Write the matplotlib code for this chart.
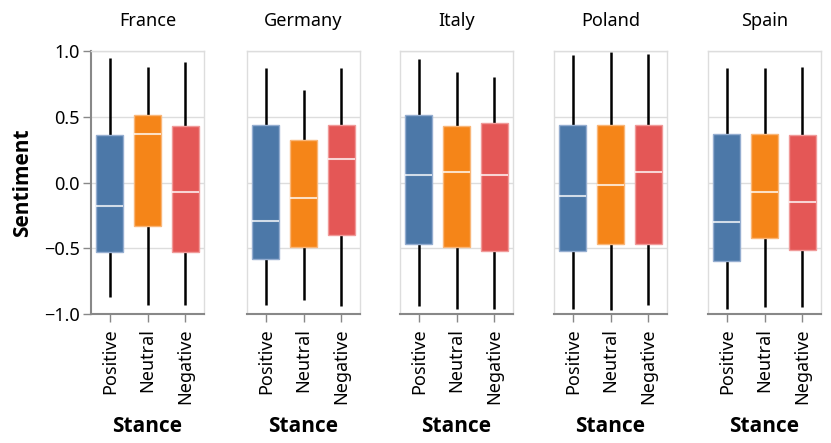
import matplotlib
matplotlib.use("Agg")
import matplotlib.pyplot as plt
from matplotlib import font_manager

plt.rcParams['font.family'] = ['Noto Sans', 'DejaVu Sans']

countries = ["France", "Germany", "Italy", "Poland", "Spain"]
stances = ["Positive", "Neutral", "Negative"]
colors = ["#4c78a8", "#f58518", "#e45756"]
edge_colors = ["#94add0", "#f9b678", "#f09a99"]

# per country, per stance: whisker low, q1, median, q3, whisker high
whislo = {
    "France":  [-0.87, -0.93, -0.93],
    "Germany": [-0.93, -0.89, -0.94],
    "Italy":   [-0.94, -0.96, -0.96],
    "Poland":  [-0.96, -0.97, -0.93],
    "Spain":   [-0.96, -0.95, -0.95],
}
q1 = {
    "France":  [-0.53, -0.33, -0.53],
    "Germany": [-0.58, -0.49, -0.40],
    "Italy":   [-0.47, -0.49, -0.52],
    "Poland":  [-0.52, -0.47, -0.47],
    "Spain":   [-0.60, -0.42, -0.51],
}
medians = {
    "France":  [-0.18, 0.37, -0.07],
    "Germany": [-0.29, -0.12, 0.18],
    "Italy":   [0.06, 0.08, 0.06],
    "Poland":  [-0.10, -0.02, 0.08],
    "Spain":   [-0.30, -0.07, -0.15],
}
q3 = {
    "France":  [0.36, 0.51, 0.43],
    "Germany": [0.44, 0.32, 0.44],
    "Italy":   [0.51, 0.43, 0.45],
    "Poland":  [0.44, 0.44, 0.44],
    "Spain":   [0.37, 0.37, 0.36],
}
whishi = {
    "France":  [0.95, 0.88, 0.92],
    "Germany": [0.87, 0.70, 0.87],
    "Italy":   [0.94, 0.84, 0.80],
    "Poland":  [0.97, 0.99, 0.98],
    "Spain":   [0.87, 0.87, 0.88],
}
yticks = [-1.0, -0.5, 0.0, 0.5, 1.0]

# pick a family that really has a bold face
bold_family = "DejaVu Sans"
for fam in ["Noto Sans", "Open Sans", "Lato", "Roboto"]:
    try:
        f = font_manager.findfont(font_manager.FontProperties(family=fam, weight="bold"),
                                  fallback_to_default=False)
        if "bold" in f.lower():
            bold_family = fam
            break
    except Exception:
        pass

W, H = 831, 443
fig = plt.figure(figsize=(W / 100, H / 100), dpi=100)

panel_left = [91, 247, 400, 554, 708]
panel_w = 113
top_px, bot_px = 51, 314

grid_c = "#dddddd"
axis_c = "#888888"

for k, c in enumerate(countries):
    ax = fig.add_axes([panel_left[k] / W, 1 - bot_px / H,
                       panel_w / W, (bot_px - top_px) / H])
    for i in range(3):
        ax.plot([i, i], [whislo[c][i], whishi[c][i]], color="black",
                lw=1.8, zorder=2, solid_capstyle="butt")
        ax.bar(i, q3[c][i] - q1[c][i], bottom=q1[c][i], width=0.72,
               color=colors[i], edgecolor=edge_colors[i], lw=1, zorder=3)
        ax.plot([i - 0.36, i + 0.36], [medians[c][i]] * 2, color="white",
                alpha=0.75, lw=1.5, zorder=4, solid_capstyle="butt")
    ax.set_xlim(-0.5, 2.5)
    ax.set_ylim(-1, 1)
    ax.set_yticks(yticks)
    ax.grid(axis="y", color=grid_c, lw=1, zorder=0)
    ax.set_axisbelow(True)
    for s in ["top", "right", "left"]:
        ax.spines[s].set_color(grid_c)
        ax.spines[s].set_linewidth(1)
    ax.spines["bottom"].set_color(axis_c)
    ax.spines["bottom"].set_linewidth(1.5)
    ax.set_xticks(range(3))
    ax.set_xticklabels(stances, rotation=90, fontsize=13)
    ax.tick_params(axis="x", color=axis_c, length=6, width=1, pad=4)
    if k == 0:
        ax.spines["left"].set_color(axis_c)
        ax.spines["left"].set_linewidth(1.5)
        ax.set_yticklabels([f"{v:.1f}".replace("-", "\u2212") for v in yticks],
                           fontsize=13)
        ax.tick_params(axis="y", color=axis_c, length=6, width=1, pad=2)
        ax.set_ylabel("Sentiment", fontsize=15, fontweight="bold",
                      family=bold_family, labelpad=8)
    else:
        ax.tick_params(axis="y", length=0, labelleft=False)
    ax.set_xlabel("Stance", fontsize=15, fontweight="bold",
                  family=bold_family, labelpad=9)
    ax.set_title(c, fontsize=13, pad=18)

fig.savefig("out.png", dpi=100)
